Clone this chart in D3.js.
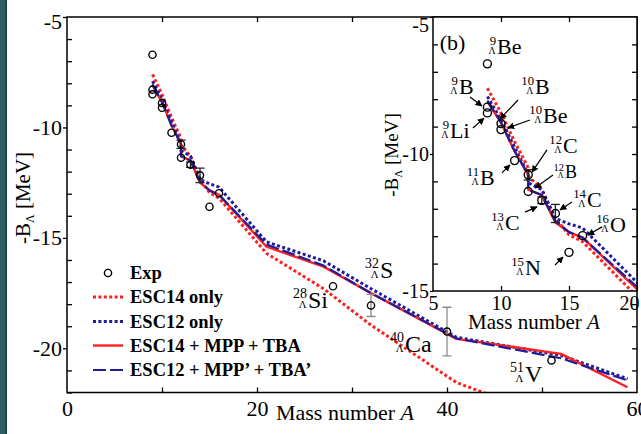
<!DOCTYPE html>
<html><head><meta charset="utf-8">
<script src="https://cdn.jsdelivr.net/npm/d3@7"></script>
<style>
body{margin:0;background:#fff}
svg{display:block}
text{font-family:"Liberation Serif","Times New Roman",serif;fill:#000}
</style>
</head><body>
<svg id="c" width="641" height="434"></svg>
<script>
// ---------- data ----------
const expA   = [9, 9, 9, 10, 10, 11, 12, 12, 13, 14, 15, 16, 28, 32, 40, 51];
const expB   = [-6.71, -8.50, -8.29, -9.11, -8.89, -10.24, -11.37, -10.76, -11.69, -12.17, -13.59, -12.98, -17.19, -18.06, -19.24, -20.55];
const expErr = [0, 0, 0, 0, 0, 0, 0, 0.19, 0.12, 0.33, 0, 0, 0, 0.5, 1.1, 0];

const thA       = [9, 10, 11, 12, 12, 13, 14, 15, 16, 21, 27, 32, 41, 52, 59];
const esc14Only = [-7.6, -8.5, -9.55, -10.5, -10.8, -11.3, -12.35, -12.95, -13.2, -15.7, -17.3, -18.95, -21.55, -23.3, -24.3];
const esc12Only = [-7.9, -8.75, -9.75, -10.75, -11.05, -11.3, -12.35, -12.55, -12.7, -15.18, -16.04, -17.3, -19.5, -20.32, -21.38];
const esc14Full = [-8.1, -8.85, -9.9, -10.75, -11.3, -11.5, -12.5, -12.85, -13.05, -15.4, -16.3, -17.5, -19.57, -20.25, -21.76];
const esc12Full = [-8.05, -8.85, -9.9, -10.75, -11.3, -11.5, -12.45, -12.85, -13.05, -15.3, -16.25, -17.5, -19.55, -20.45, -21.45];

const legendLabels = ["Exp", "ESC14 only", "ESC12 only", "ESC14 + MPP + TBA", "ESC12 + MPP\u2019 + TBA\u2019"];

const mainXTicks = [0, 20, 40, 60];
const mainYTicks = [-5, -10, -15, -20];
const insetXTicks = [5, 10, 15, 20];
const insetYTicks = [-5, -10, -15];

// annotation labels: [A, value, mass, element, size]
const mainLabels = [
  [25.37, -18.16, "28", "Si"],
  [32.95, -16.8, "32", "S"],
  [35.58, -20.15, "40", "Ca"],
  [48.2, -21.52, "51", "V"]
];
// [A, value, mass, element, fontsize, arrowFromA, arrowFromV, arrowToA, arrowToV]
const insetLabels = [
  [9.71, -6.35, "9", "Be", 22],
  [6.91, -7.81, "9", "B", 22, 7.72, -7.92, 8.6, -8.25],
  [12.5, -7.81, "10", "B", 22, 11.25, -8.03, 9.93, -8.72],
  [13.09, -8.87, "10", "Be", 22, 12.13, -8.76, 10.51, -9.05],
  [6.25, -9.42, "9", "Li", 22, 7.94, -9.05, 8.75, -8.69],
  [14.56, -9.96, "12", "C", 22, 13.38, -9.85, 12.28, -10.66],
  [8.46, -11.13, "11", "B", 22, 10.07, -10.69, 10.66, -10.4],
  [14.71, -10.88, "12", "B", 18, 13.82, -10.77, 12.5, -11.24],
  [16.32, -11.93, "14", "C", 22, 15.22, -11.75, 14.34, -12.04],
  [10.29, -12.77, "13", "C", 22, 11.76, -12.12, 12.65, -11.93],
  [18.01, -12.85, "16", "O", 22, 17.43, -12.66, 16.4, -12.96],
  [11.76, -14.42, "15", "N", 22, 13.97, -14.05, 14.56, -13.76]
];

// ---------- setup ----------
const RED = "#ff2020", BLUE = "#1e1e9a";
const series = [
  {vals: esc14Only, color: RED,  width: 3,   dash: "3,2.4"},
  {vals: esc12Only, color: BLUE, width: 3,   dash: "3,2.4"},
  {vals: esc14Full, color: RED,  width: 2.4, dash: null},
  {vals: esc12Full, color: BLUE, width: 2.2, dash: "13,4"}
];

const svg = d3.select("#c");
svg.append("rect").attr("width", 641).attr("height", 434).attr("fill", "#fff");
svg.append("rect").attr("x", 0).attr("y", 0).attr("width", 7).attr("height", 434).attr("fill", "#2d5e61");
svg.append("rect").attr("x", 5.5).attr("y", 0).attr("width", 1.5).attr("height", 434).attr("fill", "#1d4144");

const defs = svg.append("defs");
defs.append("marker").attr("id", "arr").attr("viewBox", "0 0 10 10").attr("refX", 9).attr("refY", 5)
  .attr("markerWidth", 7).attr("markerHeight", 7).attr("markerUnits", "userSpaceOnUse").attr("orient", "auto")
  .append("path").attr("d", "M0,0 L10,5 L0,10 Z").attr("fill", "#000");

function prescript(g, px, py, mass, elem, size) {
  g.append("text").attr("x", px).attr("y", py).attr("font-size", size).text(elem);
  g.append("text").attr("x", px - 1).attr("y", py - size * 0.42).attr("font-size", size * 0.58)
    .attr("text-anchor", "end").text(mass);
  g.append("text").attr("x", px - 1.5).attr("y", py).attr("font-size", size * 0.45)
    .attr("text-anchor", "end").text("\u039B");
}

function drawPanel(g, xs, ys, clipId, r) {
  const [x0, x1] = xs.range(), [y0, y1] = ys.range();
  defs.append("clipPath").attr("id", clipId).append("rect")
    .attr("x", x0).attr("y", y0).attr("width", x1 - x0).attr("height", y1 - y0);
  const cg = g.append("g").attr("clip-path", `url(#${clipId})`);
  const line = d3.line().x(d => xs(d[0])).y(d => ys(d[1]));
  series.forEach(s => {
    cg.append("path").datum(thA.map((a, i) => [a, s.vals[i]]))
      .attr("d", line).attr("fill", "none").attr("stroke", s.color)
      .attr("stroke-width", s.width).attr("stroke-dasharray", s.dash)
      .attr("stroke-linejoin", "round");
  });
  const pts = expA.map((a, i) => ({a, b: expB[i], e: expErr[i]}));
  const eg = cg.append("g");
  pts.filter(p => p.e > 0).forEach(p => {
    const col = p.a > 20 ? "#8a8a8a" : "#222";
    const cx = xs(p.a), ya = ys(p.b + p.e), yb = ys(p.b - p.e);
    eg.append("line").attr("x1", cx).attr("x2", cx).attr("y1", ya).attr("y2", yb).attr("stroke", col).attr("stroke-width", 1.3);
    [ya, yb].forEach(yy => eg.append("line").attr("x1", cx - 4.5).attr("x2", cx + 4.5).attr("y1", yy).attr("y2", yy).attr("stroke", col).attr("stroke-width", 1.3));
  });
  cg.selectAll("circle.exp").data(pts).join("circle").attr("class", "exp")
    .attr("cx", p => xs(p.a)).attr("cy", p => ys(p.b)).attr("r", r)
    .attr("fill", "#fff").attr("fill-opacity", 0).attr("stroke", "#000").attr("stroke-width", 1.4);
}

function styleAxis(sel) {
  sel.select(".domain").remove();
  sel.selectAll("line").attr("stroke", "#000").attr("stroke-width", 1.3);
  sel.selectAll("text").attr("fill", "#000").style("font-family", "'Liberation Serif',serif");
}

// ---------- main ----------
const x = d3.scaleLinear([0, 60], [67, 637]);
const y = d3.scaleLinear([-5, -22], [17, 392.5]);
const main = svg.append("g");
drawPanel(main, x, y, "clipMain", 3.6);

const minorY = d3.range(-5, -22.5, -1).filter(v => v % 5 !== 0);
main.append("g").attr("transform", "translate(67,0)").call(d3.axisLeft(y).tickValues(minorY).tickSize(-5).tickFormat("")).call(styleAxis);
main.append("g").attr("transform", "translate(637,0)").call(d3.axisRight(y).tickValues(d3.range(-6, -22, -1)).tickSize(-5).tickFormat("")).call(styleAxis);
main.append("g").attr("transform", "translate(0,17)").call(d3.axisTop(x).tickValues([10, 20, 30, 40, 50]).tickSize(-5).tickFormat("")).call(styleAxis);
main.append("g").attr("transform", "translate(0,392.5)").call(d3.axisBottom(x).tickValues([10, 20, 30, 40, 50]).tickSize(-5).tickFormat("")).call(styleAxis);
const myAx = main.append("g").attr("transform", "translate(67,0)")
  .call(d3.axisLeft(y).tickValues(mainYTicks).tickSize(4).tickPadding(1).tickFormat(d => d)).call(styleAxis);
myAx.selectAll("text").attr("font-size", 22).attr("y", d => d === -5 ? 4 : 0);
const mxAx = main.append("g").attr("transform", "translate(0,392.5)")
  .call(d3.axisBottom(x).tickValues(mainXTicks).tickSize(0).tickPadding(8)).call(styleAxis);
mxAx.selectAll("text").attr("font-size", 22);
main.append("rect").attr("x", 67).attr("y", 17).attr("width", 570).attr("height", 375.5)
  .attr("fill", "none").attr("stroke", "#000").attr("stroke-width", 1.5);

main.append("text").attr("x", 345).attr("y", 420).attr("text-anchor", "middle").attr("font-size", 22)
  .html('Mass number <tspan font-style="italic">A</tspan>');
main.append("text").attr("transform", "translate(30,198) rotate(-90)").attr("text-anchor", "middle").attr("font-size", 21)
  .html('-B<tspan font-size="12" dy="4">\u039B</tspan><tspan dy="-4"> [MeV]</tspan>');

mainLabels.forEach(l => prescript(main, x(l[0]), y(l[1]), l[2], l[3], 24));

// legend
const lg = main.append("g");
const ly = [273, 297, 321.5, 345.5, 370];
lg.append("circle").attr("cx", 108).attr("cy", ly[0]).attr("r", 3.6).attr("fill", "none").attr("stroke", "#000").attr("stroke-width", 1.4);
series.forEach((s, i) => {
  lg.append("line").attr("x1", 93).attr("x2", 123).attr("y1", ly[i + 1]).attr("y2", ly[i + 1])
    .attr("stroke", s.color).attr("stroke-width", s.width).attr("stroke-dasharray", s.dash);
});
legendLabels.forEach((t, i) => {
  lg.append("text").attr("x", 130).attr("y", ly[i]).attr("dy", "0.34em").attr("font-size", 18.5)
    .attr("font-weight", "bold").text(t);
});

// ---------- inset ----------
const xi = d3.scaleLinear([5, 20], [433, 637]);
const yi = d3.scaleLinear([-5, -15], [17, 291]);
const ins = svg.append("g");
ins.append("rect").attr("x", 433).attr("y", 17).attr("width", 204).attr("height", 274).attr("fill", "#fff");
drawPanel(ins, xi, yi, "clipIns", 4);

ins.append("g").attr("transform", "translate(433,0)").call(d3.axisLeft(yi).tickValues(d3.range(-6, -15, -1).filter(v => v !== -10)).tickSize(-5).tickFormat("")).call(styleAxis);
ins.append("g").attr("transform", "translate(637,0)").call(d3.axisRight(yi).tickValues(d3.range(-6, -15, -1)).tickSize(-5).tickFormat("")).call(styleAxis);
ins.append("g").attr("transform", "translate(0,17)").call(d3.axisTop(xi).tickValues([10, 15]).tickSize(-5).tickFormat("")).call(styleAxis);
ins.append("g").attr("transform", "translate(0,291)").call(d3.axisBottom(xi).tickValues([10, 15]).tickSize(-5).tickFormat("")).call(styleAxis);
const iyAx = ins.append("g").attr("transform", "translate(433,0)")
  .call(d3.axisLeft(yi).tickValues(insetYTicks).tickSize(3).tickPadding(1).tickFormat(d => d)).call(styleAxis);
iyAx.selectAll("text").attr("font-size", 20).attr("y", d => d === -5 ? 8 : 0);
const ixAx = ins.append("g").attr("transform", "translate(0,291)")
  .call(d3.axisBottom(xi).tickValues(insetXTicks).tickSize(0).tickPadding(5)).call(styleAxis);
ixAx.selectAll("text").attr("font-size", 20).attr("x", d => d === 20 ? -8 : 0);
ins.append("rect").attr("x", 433).attr("y", 17).attr("width", 204).attr("height", 274)
  .attr("fill", "none").attr("stroke", "#000").attr("stroke-width", 1.5);

ins.append("text").attr("x", 534).attr("y", 329).attr("text-anchor", "middle").attr("font-size", 21)
  .html('Mass number <tspan font-style="italic">A</tspan>');
ins.append("text").attr("transform", "translate(398,155) rotate(-90)").attr("text-anchor", "middle").attr("font-size", 19)
  .html('-B<tspan font-size="11" dy="4">\u039B</tspan><tspan dy="-4"> [MeV]</tspan>');
ins.append("text").attr("x", xi(5.5)).attr("y", yi(-6.2)).attr("font-size", 22).text("(b)");

insetLabels.forEach(l => {
  prescript(ins, xi(l[0]), yi(l[1]), l[2], l[3], l[4]);
  if (l.length > 5) {
    ins.append("line").attr("x1", xi(l[5])).attr("y1", yi(l[6])).attr("x2", xi(l[7])).attr("y2", yi(l[8]))
      .attr("stroke", "#000").attr("stroke-width", 1.2).attr("marker-end", "url(#arr)");
  }
});
</script>
</body></html>
